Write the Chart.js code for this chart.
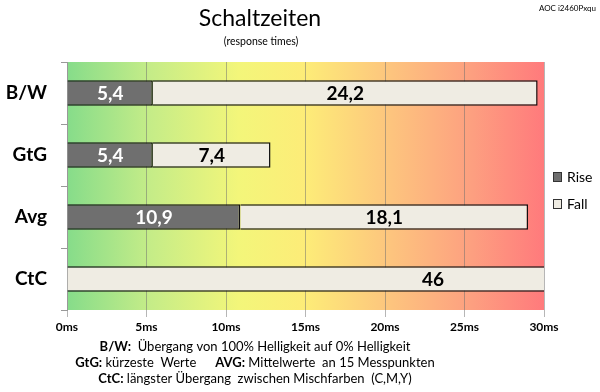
<!DOCTYPE html>
<html>
<head>
<meta charset="utf-8">
<script src="https://cdn.jsdelivr.net/npm/chart.js@4"></script>
<style>
  html, body { margin: 0; padding: 0; background: #fff; }
  #wrap { width: 600px; height: 392px; position: relative; }
</style>
</head>
<body>
<div id="wrap"><canvas id="chart"></canvas></div>
<script>
const CTX = document.getElementById('chart');

const categories = ['B/W', 'GtG', 'Avg', 'CtC'];
const riseValues = [5.4, 5.4, 10.9, 0];
const fallValues = [24.2, 7.4, 18.1, 46];
const tickValues = [0, 5, 10, 15, 20, 25, 30];

const FONT = 'Lato, "Open Sans", sans-serif';

// gradient background + texts around the plot
const decor = {
  id: 'decor',
  beforeDraw(chart) {
    const { ctx, chartArea: a } = chart;
    const g = ctx.createLinearGradient(a.left, 0, a.right, 0);
    g.addColorStop(0, '#86dc8a');
    g.addColorStop(0.17, '#c4ec88');
    g.addColorStop(0.36, '#f3f67a');
    g.addColorStop(0.5, '#fdec78');
    g.addColorStop(0.68, '#fdc47e');
    g.addColorStop(0.85, '#fd9f80');
    g.addColorStop(1, '#ff7a7c');
    ctx.save();
    ctx.fillStyle = g;
    ctx.fillRect(a.left, a.top, a.right - a.left, a.bottom - a.top);
    ctx.restore();
  },
  afterDraw(chart) {
    const { ctx } = chart;
    ctx.save();
    ctx.fillStyle = '#000';
    ctx.textBaseline = 'middle';

    ctx.textAlign = 'center';
    ctx.font = '23px ' + FONT;
    ctx.fillText('Schaltzeiten', 260, 19);
    ctx.font = '10.5px ' + FONT;
    ctx.fillText('(response times)', 261, 42);

    ctx.textAlign = 'right';
    ctx.font = '8px ' + FONT;
    ctx.fillText('AOC i2460Pxqu', 596, 8);

    // legend
    const items = [['Rise', '#6f6f6f'], ['Fall', '#efece3']];
    ctx.textAlign = 'left';
    ctx.font = '14px ' + FONT;
    items.forEach((it, i) => {
      const y = 177 + i * 27;
      ctx.fillStyle = it[1];
      ctx.fillRect(553, y - 5, 9, 10);
      ctx.strokeStyle = '#333';
      ctx.lineWidth = 1;
      ctx.strokeRect(553.5, y - 4.5, 8, 9);
      ctx.fillStyle = '#000';
      ctx.fillText(it[0], 567, y);
    });

    // notes under the axis
    const lines = [
      [['B/W:', true], ['  Übergang von 100% Helligkeit auf 0% Helligkeit', false]],
      [['GtG:', true], [' kürzeste  Werte', false], ['      AVG:', true], [' Mittelwerte  an 15 Messpunkten', false]],
      [['CtC:', true], [' längster Übergang  zwischen Mischfarben  (C,M,Y)', false]]
    ];
    lines.forEach((parts, i) => {
      let w = 0;
      parts.forEach(p => { ctx.font = (p[1] ? 'bold ' : '') + '13px ' + FONT; w += ctx.measureText(p[0]).width; });
      let x = 255 - w / 2;
      const y = 347 + i * 16;
      parts.forEach(p => {
        ctx.font = (p[1] ? 'bold ' : '') + '13px ' + FONT;
        ctx.fillText(p[0], x, y);
        x += ctx.measureText(p[0]).width;
      });
    });
    ctx.restore();
  }
};

// values written in the middle of each bar
const barLabels = {
  id: 'barLabels',
  afterDatasetsDraw(chart) {
    const { ctx } = chart;
    ctx.save();
    ctx.font = 'bold 19px ' + FONT;
    ctx.textAlign = 'center';
    ctx.textBaseline = 'middle';
    chart.data.datasets.forEach((ds, di) => {
      chart.getDatasetMeta(di).data.forEach((bar, i) => {
        const v = ds.data[i];
        if (!v) return;
        const cx = (bar.x + bar.base) / 2;
        ctx.fillStyle = di === 0 ? '#fff' : '#000';
        ctx.fillText(String(v).replace('.', ','), cx, bar.y + 1);
      });
    });
    ctx.restore();
  }
};

new Chart(CTX, {
  type: 'bar',
  data: {
    labels: categories,
    datasets: [{
      label: 'Rise',
      data: riseValues,
      backgroundColor: '#6f6f6f',
      borderColor: '#111',
      borderWidth: 1.5,
      clip: 0
    }, {
      label: 'Fall',
      data: fallValues,
      backgroundColor: '#efece3',
      borderColor: '#111',
      borderWidth: 1.5,
      clip: 0
    }]
  },
  options: {
    indexAxis: 'y',
    responsive: true,
    maintainAspectRatio: false,
    animation: false,
    datasets: { bar: { categoryPercentage: 1, barPercentage: 0.41 } },
    layout: { padding: { top: 62, right: 56, left: 0, bottom: 0 } },
    plugins: {
      legend: { display: false },
      tooltip: { enabled: false }
    },
    scales: {
      x: {
        stacked: true,
        min: 0,
        max: 30,
        afterBuildTicks: s => { s.ticks = tickValues.map(v => ({ value: v })); },
        afterFit: s => { s.height = 82; },
        grid: { color: 'rgba(110,110,110,0.5)', tickLength: 7 },
        border: { display: false },
        ticks: {
          color: '#000',
          font: { family: FONT, size: 12, weight: 'bold' },
          padding: 3,
          callback: v => v + 'ms'
        }
      },
      y: {
        stacked: true,
        afterFit: s => { s.width = 67; },
        grid: { drawOnChartArea: false, offset: true, tickLength: 6, color: '#999' },
        border: { color: '#999' },
        ticks: {
          color: '#000',
          font: { family: FONT, size: 19, weight: 'bold' },
          padding: 14
        }
      }
    }
  },
  plugins: [decor, barLabels]
});
</script>
</body>
</html>
